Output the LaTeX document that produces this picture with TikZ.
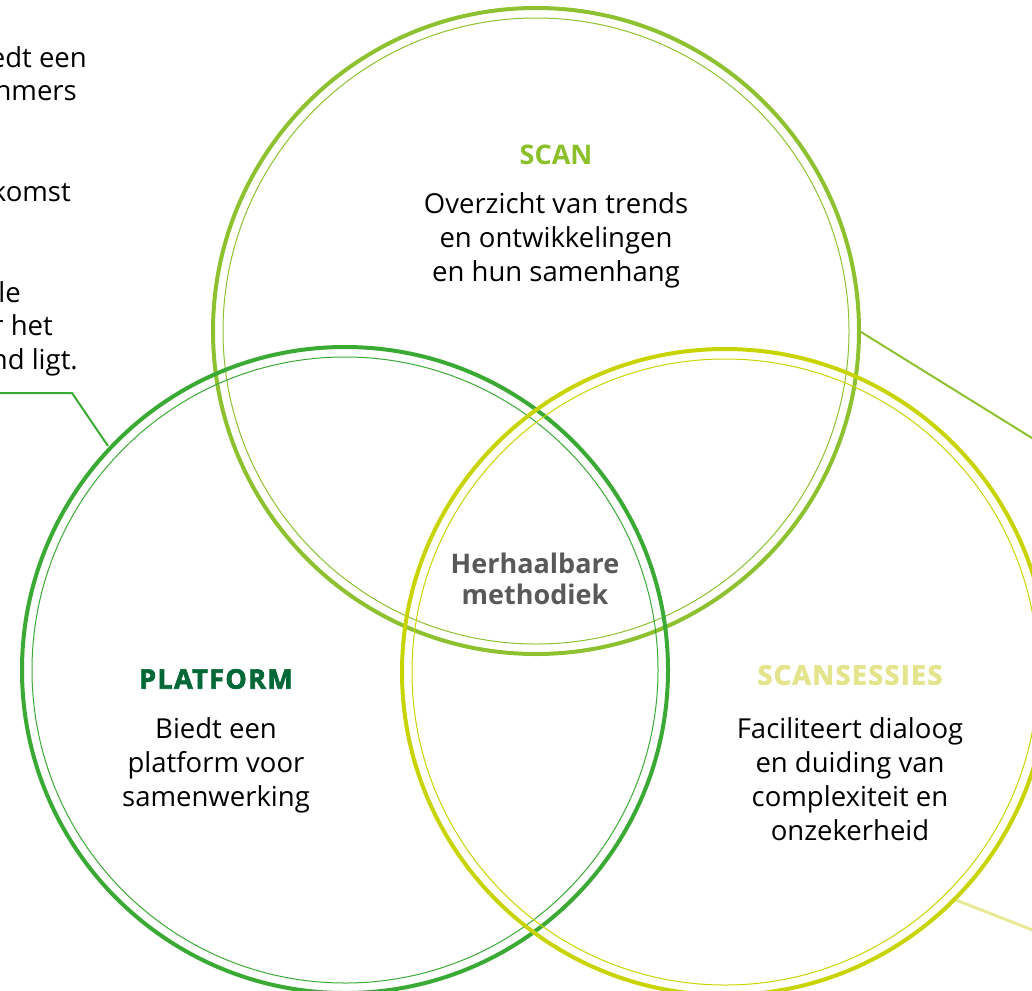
\documentclass[tikz,border=0pt]{standalone}
\usepackage{fontspec}
\setmainfont{Open Sans}
\newfontfamily\boldsans{Open Sans}[UprightFont=* Bold]
\newfontfamily\xboldsans{Open Sans}[UprightFont=* Bold, FakeBold=2.5, LetterSpace=5]
\definecolor{scanc}{RGB}{141,193,47}
\definecolor{platc}{RGB}{58,170,53}
\definecolor{sessc}{RGB}{200,212,0}
\definecolor{sesspale}{RGB}{232,232,150}
\definecolor{scantitle}{RGB}{139,192,42}
\definecolor{plattitle}{RGB}{0,104,55}
\definecolor{sesstitle}{RGB}{227,228,140}
\definecolor{graytxt}{RGB}{88,89,91}
\begin{document}
\begin{tikzpicture}[x=1pt,y=-1pt,
  outer/.style={line width=4pt},
  inner/.style={line width=1pt},
  conn/.style={line width=2pt},
  body/.style={align=center, inner sep=0pt, font=\fontsize{27.5}{34}\selectfont},
  sidetxt/.style={anchor=base east, inner sep=0pt, font=\fontsize{27.5}{34}\selectfont},
  ttl/.style={inner sep=0pt, font=\fontsize{27}{32}\selectfont\boldsans},
  xttl/.style={inner sep=0pt, font=\fontsize{27}{32}\selectfont\xboldsans}]
\useasboundingbox (0,0) rectangle (1032,990);
% circles
\coordinate (cscan) at (536,331);
\coordinate (cplat) at (345,670);
\coordinate (csess) at (725,672);
\draw[scanc,outer] (cscan) circle[radius=323];
\draw[scanc,inner] (cscan) circle[radius=313];
\draw[platc,outer] (cplat) circle[radius=323];
\draw[platc,inner] (cplat) circle[radius=313];
\draw[sessc,outer] (csess) circle[radius=323];
\draw[sessc,inner] (csess) circle[radius=313];
% connectors
\coordinate (lA) at (-5,393);
\coordinate (lB) at (72,393);
\coordinate (lC) at (108,446);
\coordinate (rA) at (861,332);
\coordinate (rB) at (1040,443);
\coordinate (bA) at (956,900);
\coordinate (bB) at (1040,933);
\draw[platc,conn] (lA) -- (lB) -- (lC);
\draw[scanc,conn] (rA) -- (rB);
\draw[sesspale,line width=3pt] (bA) -- (bB);
% side text (cut off at left edge)
\node[sidetxt] (s1) at (87,67) {edt een};
\node[sidetxt] (s2) at (77,100.5) {nmers};
\node[sidetxt] (s3) at (71,201) {komst};
\node[sidetxt] (s4) at (21,302) {le};
\node[sidetxt] (s5) at (53,335.5) {r het};
\node[sidetxt] (s6) at (78,369) {nd ligt.};
% SCAN
\node[ttl,text=scantitle] (scant) at (556,155) {SCAN};
\node[body] (scanb) at (556,240) {Overzicht van trends\\en ontwikkelingen\\en hun samenhang};
% PLATFORM
\node[xttl,text=plattitle] (platt) at (216,679) {PLATFORM};
\node[body] (platb) at (216,765) {Biedt een\\platform voor\\samenwerking};
% SCANSESSIES
\node[xttl,text=sesstitle] (sesst) at (850,675) {SCANSESSIES};
\node[body] (sessb) at (850,779) {Faciliteert dialoog\\en duiding van\\complexiteit en\\onzekerheid};
% center
\node[inner sep=0pt, align=center, text=graytxt, font=\fontsize{27}{31}\selectfont\boldsans] (mid) at (535,579) {Herhaalbare\\methodiek};
\end{tikzpicture}
\end{document}
